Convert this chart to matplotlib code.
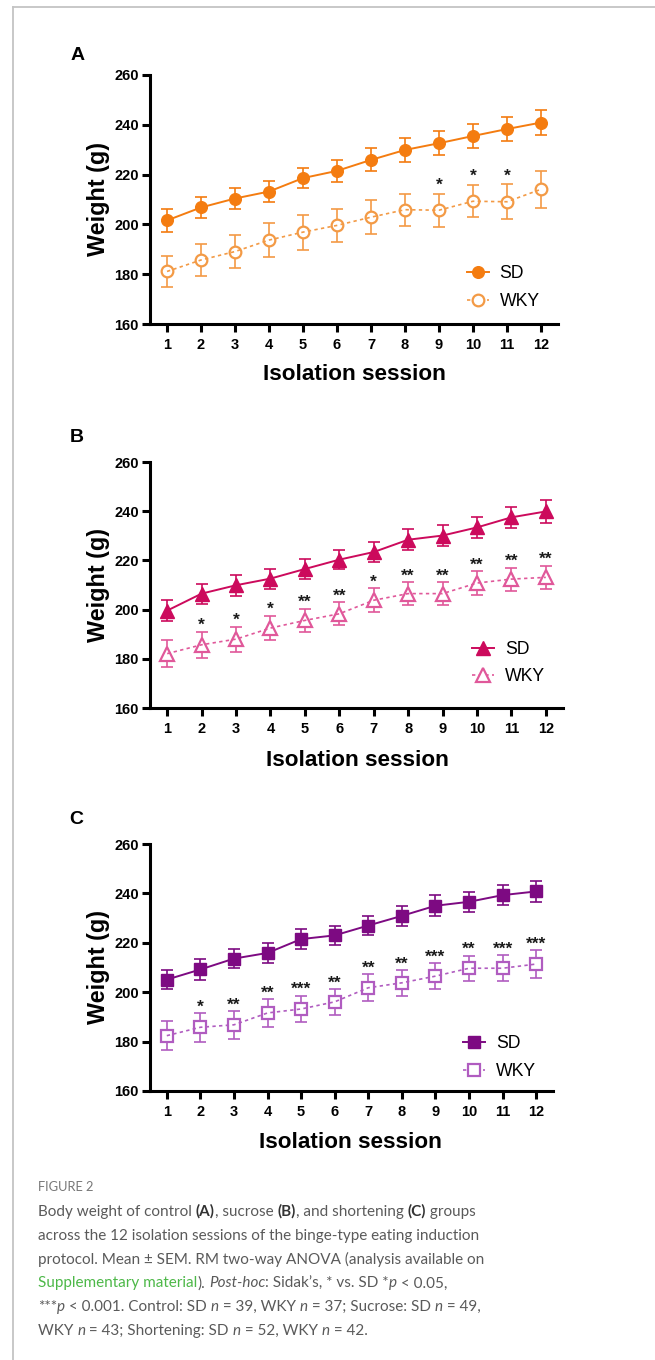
import matplotlib
matplotlib.use("Agg")
import matplotlib.pyplot as plt
from matplotlib.lines import Line2D
from matplotlib import font_manager

# ---------------- data ----------------
sessions = list(range(1, 13))
y_ticks = [160, 180, 200, 220, 240, 260]
groups = ["SD", "WKY"]

a_sd = [201.6, 206.8, 210.4, 213.2, 218.6, 221.5, 225.9, 229.9, 232.6, 235.5, 238.3, 240.9]
a_sd_sem = [4.5, 4.4, 4.2, 4.4, 4.0, 4.5, 4.6, 4.7, 4.9, 4.9, 4.9, 5.1]
a_wky = [181.1, 185.7, 189.1, 193.7, 196.9, 199.6, 202.9, 205.9, 205.7, 209.3, 209.1, 214.1]
a_wky_sem = [6.4, 6.5, 6.8, 6.7, 7.0, 6.5, 6.8, 6.5, 6.7, 6.5, 7.0, 7.5]
a_stars = ["", "", "", "", "", "", "", "", "*", "*", "*", ""]

b_sd = [199.6, 206.5, 209.9, 212.6, 216.5, 220.3, 223.4, 228.4, 230.1, 233.4, 237.5, 239.9]
b_sd_sem = [4.3, 4.1, 4.3, 4.1, 3.9, 3.9, 4.0, 4.3, 4.2, 4.1, 4.3, 4.5]
b_wky = [182.1, 185.7, 188.0, 192.5, 195.6, 198.3, 203.8, 206.5, 206.5, 210.8, 212.4, 213.1]
b_wky_sem = [5.4, 5.3, 5.1, 5.0, 4.7, 4.7, 4.9, 4.6, 4.6, 4.8, 4.7, 4.8]
b_stars = ["", "*", "*", "*", "**", "**", "*", "**", "**", "**", "**", "**"]

c_sd = [205.1, 209.2, 213.6, 215.9, 221.5, 223.0, 227.0, 230.9, 235.0, 236.6, 239.3, 240.8]
c_sd_sem = [4.0, 4.1, 3.9, 4.1, 4.0, 4.0, 3.9, 4.2, 4.2, 4.1, 4.1, 4.2]
c_wky = [182.4, 185.8, 186.8, 191.6, 193.2, 196.1, 201.8, 203.8, 206.5, 209.7, 209.7, 211.4]
c_wky_sem = [5.8, 5.8, 5.6, 5.5, 5.3, 5.2, 5.4, 5.2, 5.3, 5.1, 5.2, 5.5]
c_stars = ["", "*", "**", "**", "***", "**", "**", "**", "***", "**", "***", "***"]

panel_letters = ["A", "B", "C"]
xlabel = "Isolation session"
ylabel = "Weight (g)"

# ---------------- layout ----------------
W, H = 655, 1360
fig = plt.figure(figsize=(W / 100, H / 100), dpi=100)
fig.patch.set_facecolor("white")

def px(x, y):
    return x / W, 1 - y / H

panels = [
    dict(data=(a_sd, a_sd_sem, a_wky, a_wky_sem, a_stars), marker="o",
         c_sd="#F47C10", c_wky="#F39A45",
         box=(150, 75, 558, 324), leg=(0.777, 0.147), star_off=3.4,
         letter=(78, 56), xl=(354, 375)),
    dict(data=(b_sd, b_sd_sem, b_wky, b_wky_sem, b_stars), marker="^",
         c_sd="#CC0A5C", c_wky="#E0589A",
         box=(150, 462, 563, 708), leg=(0.78, 0.183), star_off=2.6,
         letter=(77, 438), xl=(357, 760)),
    dict(data=(c_sd, c_sd_sem, c_wky, c_wky_sem, c_stars), marker="s",
         c_sd="#7D0A82", c_wky="#B05CC0",
         box=(150, 844, 553, 1091), leg=(0.777, 0.136), star_off=2.5,
         letter=(76, 820), xl=(350, 1143)),
]

tick_font = dict(family="Liberation Sans", weight="bold", size=10.5)

for letter, p in zip(panel_letters, panels):
    l, t, r, b = p["box"]
    ax = fig.add_axes([l / W, 1 - b / H, (r - l) / W, (b - t) / H])
    sd, sd_sem, wky, wky_sem, stars = p["data"]
    m = p["marker"]
    ms = {"o": 8.4, "^": 9.6, "s": 8.2}[m]
    ax.errorbar(sessions, sd, yerr=sd_sem, fmt="none", ecolor=p["c_sd"],
                elinewidth=1.2, capsize=4, capthick=1.2, zorder=2)
    ax.errorbar(sessions, wky, yerr=wky_sem, fmt="none", ecolor=p["c_wky"],
                elinewidth=1.2, capsize=4, capthick=1.2, zorder=2)
    ax.plot(sessions, sd, color=p["c_sd"], lw=1.4, marker=m, ms=ms,
            mfc=p["c_sd"], mec=p["c_sd"], zorder=3)
    ax.plot(sessions, wky, ls="none", marker=m, ms=ms, mfc="white",
            mec=p["c_wky"], mew=1.6, zorder=3)
    ax.plot(sessions, wky, color=p["c_wky"], lw=1.2, ls=(0, (2, 2)), zorder=4)
    for xi, yi, ei, s in zip(sessions, wky, wky_sem, stars):
        if s:
            ax.text(xi, yi + ei + p["star_off"], s, ha="center", va="center",
                    fontsize=12.5, fontweight="bold", family="Liberation Sans",
                    color="#1a1a1a", zorder=5)
    ax.set_xlim(0.5, 12.5)
    ax.set_ylim(160, 260)
    ax.set_xticks(sessions)
    ax.set_yticks(y_ticks)
    ax.set_xticklabels([str(s) for s in sessions], fontdict=tick_font)
    ax.set_yticklabels([str(v) for v in y_ticks], fontdict=tick_font)
    for s in ["top", "right"]:
        ax.spines[s].set_visible(False)
    for s in ["left", "bottom"]:
        ax.spines[s].set_linewidth(2.2)
        ax.spines[s].set_color("black")
        ax.spines[s].set_capstyle("projecting")
    ax.tick_params(axis="both", direction="out", length=6, width=2.2,
                   color="black")
    ax.tick_params(axis="x", pad=4)
    ax.tick_params(axis="y", pad=2)
    handles = [
        Line2D([], [], color=p["c_sd"], lw=1.4, marker=m, ms=ms,
               mfc=p["c_sd"], mec=p["c_sd"]),
        Line2D([], [], color=p["c_wky"], lw=1.2, ls=(0, (2, 2)), marker=m,
               ms=ms, mfc="white", mec=p["c_wky"], mew=1.6),
    ]
    ax.legend(handles, groups, loc="center left", bbox_to_anchor=p["leg"],
              frameon=False, borderpad=0, borderaxespad=0, handlelength=1.25,
              handletextpad=0.6, labelspacing=0.6,
              prop=dict(family="Liberation Sans", size=12.7))
    fig.text(*px(*p["xl"]), xlabel, ha="center", va="center",
             family="Liberation Sans", weight="bold", size=16.2)
    fig.text(*px(98, (t + b) / 2), ylabel, ha="center", va="center",
             rotation=90, family="Liberation Sans", weight="bold", size=16.8)
    fig.text(*px(*p["letter"]), letter, ha="center", va="center",
             family="Liberation Sans", weight="bold", size=14)

# ---------------- frame lines ----------------
fig.add_artist(Line2D([13 / W, 1], [1 - 7 / H, 1 - 7 / H], color="#c4c4c4",
                      lw=1.3, transform=fig.transFigure))
fig.add_artist(Line2D([13 / W, 13 / W], [1 - 7 / H, 0], color="#c4c4c4",
                      lw=1.3, transform=fig.transFigure))

# ---------------- caption ----------------
renderer = fig.canvas.get_renderer()
available = {f.name for f in font_manager.fontManager.ttflist}
cap_family = "Liberation Sans Narrow" if "Liberation Sans Narrow" in available else "Lato"
cap_color = "#5a5a5a"

def measure(text, **kw):
    t1 = fig.text(0, 0, "|" + text + "|", **kw)
    t2 = fig.text(0, 0, "||", **kw)
    w = t1.get_window_extent(renderer).width - t2.get_window_extent(renderer).width
    t1.remove()
    t2.remove()
    return w

def style(kind, size):
    kw = dict(family=cap_family, size=size, color=cap_color)
    if kind == "b":
        kw.update(weight="bold", color="#333333")
    elif kind == "i":
        kw.update(style="italic")
    elif kind == "g":
        kw.update(color="#4DB848")
    return kw

line1 = [("Body weight of control ", "r"), ("(A)", "b"), (", sucrose ", "r"),
         ("(B)", "b"), (", and shortening ", "r"), ("(C)", "b"), (" groups", "r")]
caption_lines = [
    line1,
    [("across the 12 isolation sessions of the binge-type eating induction", "r")],
    [("protocol. Mean \u00b1 SEM. RM two-way ANOVA (analysis available on", "r")],
    [("Supplementary material", "g"), (").", "r"), (" ", "r"), ("Post-hoc", "i"),
     (": Sidak\u2019s, * vs. SD *", "r"), ("p", "i"), (" < 0.05,", "r")],
    [("***", "r"), ("p", "i"), (" < 0.001. Control: SD ", "r"), ("n", "i"),
     (" = 39, WKY ", "r"), ("n", "i"), (" = 37; Sucrose: SD ", "r"), ("n", "i"),
     (" = 49,", "r")],
    [("WKY ", "r"), ("n", "i"), (" = 43; Shortening: SD ", "r"), ("n", "i"),
     (" = 52, WKY ", "r"), ("n", "i"), (" = 42.", "r")],
]

base = 10.0
w0 = sum(measure(txt, **style(k, base)) for txt, k in line1)
cap_size = min(base * 437.0 / w0, 13.0)

fig.text(*px(38, 1191), "FIGURE 2", ha="left", va="baseline",
         family=cap_family, size=cap_size * 0.85, color="#777777")

x0 = 38
baselines = [1216, 1239.8, 1263.6, 1287.4, 1311.2, 1335]
for runs, yb in zip(caption_lines, baselines):
    x = x0
    for txt, k in runs:
        kw = style(k, cap_size)
        fig.text(*px(x, yb), txt, ha="left", va="baseline", **kw)
        x += measure(txt, **kw)

fig.savefig("out.png", dpi=100, facecolor="white")
